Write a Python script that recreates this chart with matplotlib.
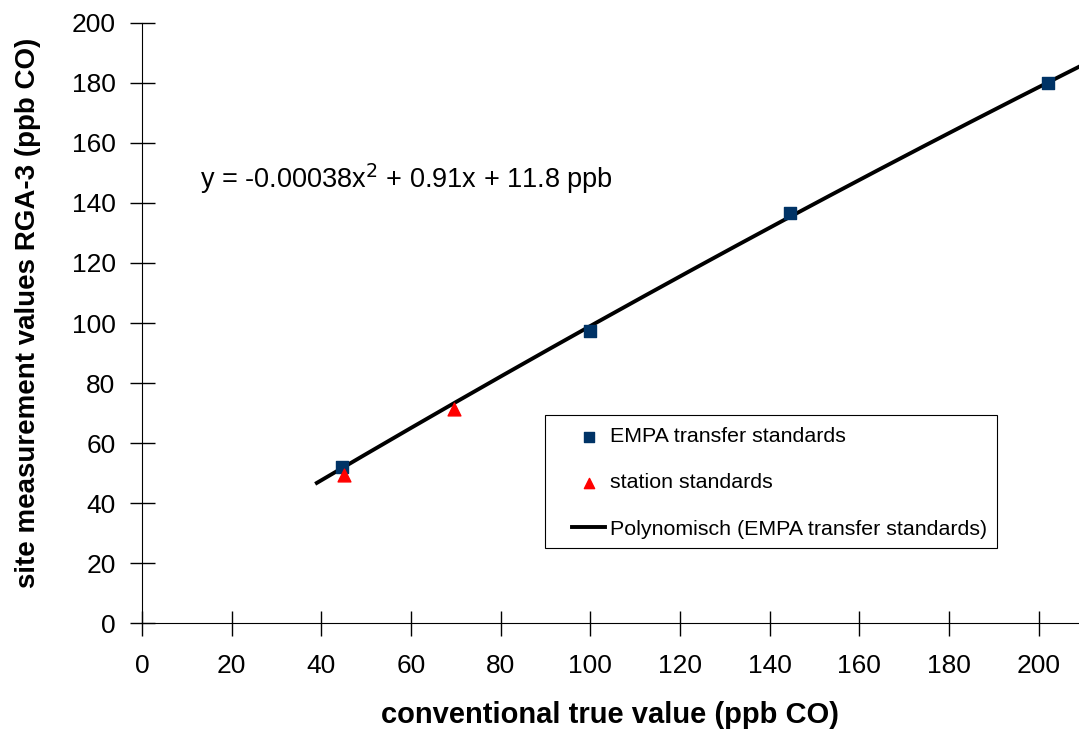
import matplotlib
from matplotlib import pyplot as plt
from matplotlib.patches import Rectangle
import numpy as np

# calibration points (ppb CO)
empa_true = [44.5, 100.0, 144.5, 202.0]
empa_meas = [52.0, 97.5, 136.5, 180.0]
station_true = [45.0, 69.5]
station_meas = [49.5, 71.5]

# second-order polynomial fit of the EMPA transfer standards
fit_coef = [-0.00038, 0.91, 11.8]
fit_range = (39.0, 212.0)

x_ticks = list(range(0, 201, 20))
y_ticks = list(range(0, 201, 20))

matplotlib.rc('font', family=['Liberation Sans', 'DejaVu Sans'])

W, H = 1079, 740
fig = plt.figure(figsize=(W / 100, H / 100), dpi=100)
ax = fig.add_axes([0.1316, 0.158, 0.8684, 0.811])

x = np.linspace(*fit_range, 300)
ax.plot(x, np.polyval(fit_coef, x), color='black', lw=2.8, zorder=1,
        label='Polynomisch (EMPA transfer standards)')
ax.scatter(empa_true, empa_meas, marker='s', s=80, color='#003366', zorder=2,
           label='EMPA transfer standards')
ax.scatter(station_true, station_meas, marker='^', s=85, color='#ff0000', zorder=3,
           label='station standards')

ax.set_xlim(0, 209)
ax.set_ylim(0, 200)
ax.set_xticks(x_ticks)
ax.set_yticks(y_ticks)
ax.tick_params(direction='inout', length=18, width=1, labelsize=19)
ax.tick_params(axis='x', pad=13)
ax.tick_params(axis='y', pad=10)
for side in ('top', 'right'):
    ax.spines[side].set_visible(False)
ax.spines['left'].set_bounds(0, 200)

ax.set_xlabel('conventional true value (ppb CO)', fontsize=21, fontweight='bold', labelpad=17)
ax.set_ylabel('site measurement values RGA-3 (ppb CO)', fontsize=20, fontweight='bold',
              labelpad=22, y=0.5175)

ax.text(13, 148, r'y = -0.00038x$^2$ + 0.91x + 11.8 ppb', fontsize=19.5,
        va='center', ha='left')

# legend box drawn separately so the inner padding can differ per side
box = Rectangle((545 / W, 1 - 548 / H), 452 / W, 133 / H,
                transform=fig.transFigure, facecolor='white',
                edgecolor='black', lw=0.8, zorder=4, clip_on=False)
ax.add_artist(box)

handles, labels = ax.get_legend_handles_labels()
order = [1, 2, 0]
leg = ax.legend([handles[i] for i in order], [labels[i] for i in order],
                loc='center left', bbox_to_anchor=(572 / W, 1 - 483 / H),
                bbox_transform=fig.transFigure, borderaxespad=0, borderpad=0,
                fontsize=15.4, frameon=False,
                handlelength=1.55, handletextpad=0.25, labelspacing=1.27,
                markerscale=0.8)
leg.set_zorder(5)

plt.savefig('out.png', dpi=100)
